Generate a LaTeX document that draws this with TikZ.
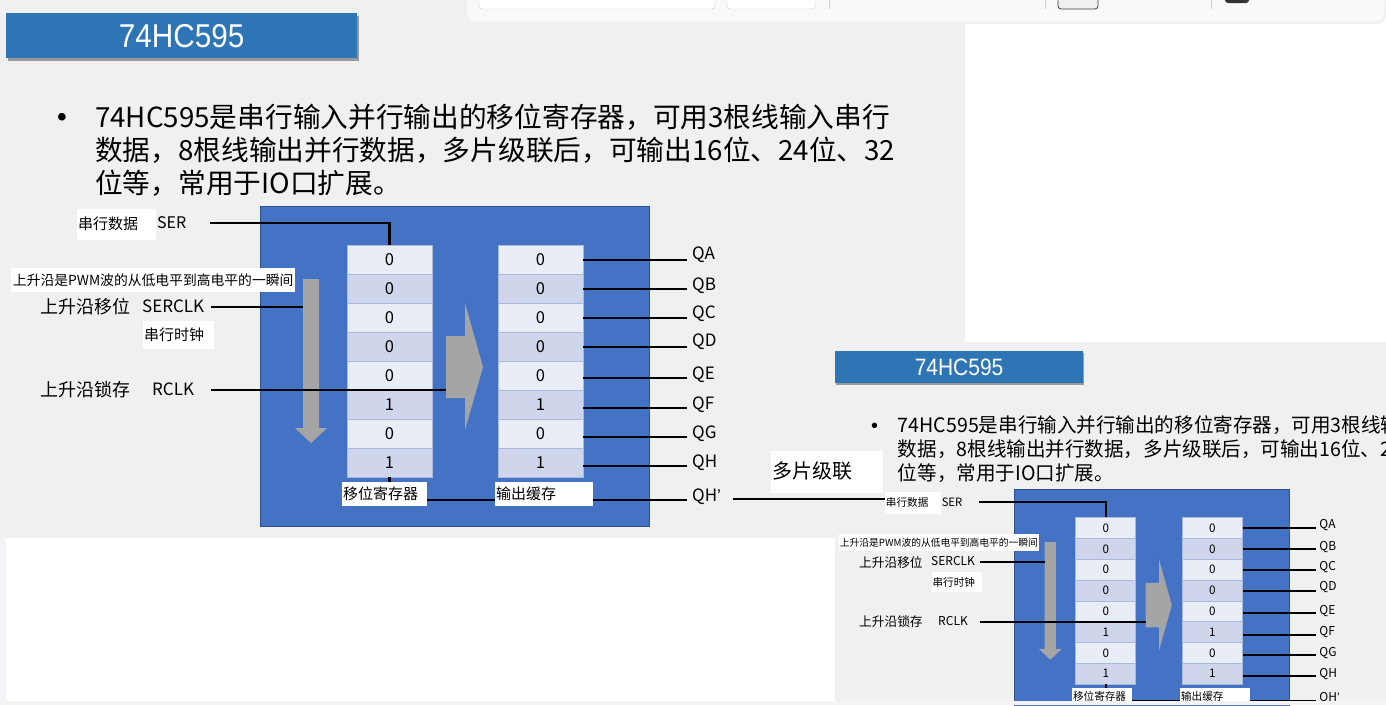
\documentclass[tikz,border=0pt]{standalone}
\usepackage{fontspec}
\setmainfont{Noto Sans CJK SC}
\newfontfamily\titlefont[FakeStretch=0.9]{Liberation Sans}
\newfontfamily\latinfont{Liberation Sans}
\usetikzlibrary{calc}
\definecolor{slidebg}{HTML}{F0F0F0}
\definecolor{edgegray}{HTML}{F4F4F6}
\definecolor{bannerblue}{HTML}{2E75B6}
\definecolor{chipblue}{HTML}{4472C4}
\definecolor{chipedge}{HTML}{2F528F}
\definecolor{cellA}{HTML}{E9EDF6}
\definecolor{cellB}{HTML}{CFD5EA}
\definecolor{cellline}{HTML}{A9B9DE}
\definecolor{arrowgray}{HTML}{A5A5A5}
\definecolor{toolbg}{HTML}{F9F9F9}
\definecolor{boxline}{HTML}{D0D0D0}
\newcommand\fs[1]{\fontsize{#1}{#1}\selectfont}
\def\wirelw{2.8pt}
\def\celllw{0.8pt}
\tikzset{
  banner/.style={fill=bannerblue, inner sep=0, minimum width=351, minimum height=45,
    anchor=north west, text=white, font=\titlefont\fs{33}},
  txt/.style={inner sep=0, text=black},
  wbox/.style={fill=white, inner sep=0, anchor=north west},
  cell/.style={draw=cellline, line width=\celllw, minimum width=85, minimum height=29,
    inner sep=0, font=\fs{16.5}},
  wire/.style={draw=black, line width=\wirelw},
  garrow/.style={fill=arrowgray},
}
\newcommand\slidebody{%
  \fill[black!40] (8,16) rectangle (359,61);
  \node[banner] (title) at (6,13) {74HC595};
  \node[txt, font=\latinfont\fs{28}, anchor=base] (bullet) at (62,126) {•};
  \node[txt, font=\fs{27.7}, anchor=base west] (body1) at (95,127) {74HC595是串行输入并行输出的移位寄存器，可用3根线输入串行};
  \node[txt, font=\fs{27.7}, anchor=base west] (body2) at (95,160) {数据，8根线输出并行数据，多片级联后，可输出16位、24位、32};
  \node[txt, font=\fs{27.7}, anchor=base west] (body3) at (95,193) {位等，常用于IO口扩展。};
  % chip body
  \node[fill=chipblue, draw=chipedge, line width=0.8, minimum width=389, minimum height=320,
    anchor=north west, inner sep=0] (chip) at (260,206) {};
  % register cells
  \foreach \i/\v/\c in {1/0/cellA,2/0/cellB,3/0/cellA,4/0/cellB,5/0/cellA,6/1/cellB,7/0/cellA,8/1/cellB}{
    \node[cell, fill=\c] (L\i) at (389.5,{230.5+29*\i}) {\v};
    \node[cell, fill=\c] (R\i) at (540.5,{230.5+29*\i}) {\v};
  }
  % gray arrows
  \fill[garrow] (303,279) -- (319,279) -- (319,428) -- (327,428) -- (311,443) -- (295,428) -- (303,428) -- cycle;
  \fill[garrow] (446,336) -- (465,336) -- (465,303) -- (483,367) -- (465,430) -- (465,398) -- (446,398) -- cycle;
  % wire end points
  \coordinate (serw) at (210,223);
  \coordinate (sclkw) at (211,307);
  \coordinate (sclkend) at (303,307);
  \coordinate (rclkw) at (211,390);
  \coordinate (rclkend) at (446,390);
  \coordinate (qhpw) at (687,500);
  \draw[wire] (serw) -| (L1.north);
  \draw[wire] (sclkw) -- (sclkend);
  \draw[wire] (rclkw) -- (rclkend);
  \draw[wire] (L8.south) |- (qhpw);
  % outputs
  \foreach \i/\y/\ly/\q in {1/260/255/QA,2/289/286/QB,3/318/314/QC,4/347/342/QD,5/378/375/QE,6/408/405/QF,7/437/434/QG,8/466/463/QH}{
    \coordinate (qw\i) at (687,\y);
    \draw[wire] (R\i.east |- qw\i) -- (qw\i);
    \node[txt, font=\fs{17}, anchor=west] (q\i) at (692,\ly) {\q};
  }
  \node[txt, font=\fs{17}, anchor=west] (qhp) at (692,497) {QH{\latinfont ’}};
  % bottom labels
  \node[wbox, minimum width=85, minimum height=24] (srbox) at (342,482) {};
  \node[txt, font=\fs{15}, anchor=west] (srtxt) at (343,494) {移位寄存器};
  \node[wbox, minimum width=98, minimum height=24] (obbox) at (495,482) {};
  \node[txt, font=\fs{15}, anchor=west] (obtxt) at (496,494) {输出缓存};
  % left labels
  \node[wbox, minimum width=79, minimum height=31] (serbox) at (77,209) {};
  \node[txt, font=\fs{15}, anchor=west] (sertxt) at (78,224) {串行数据};
  \node[txt, font=\fs{16}, anchor=west] (ser) at (157,223) {SER};
  \node[wbox, minimum width=284, minimum height=24, font=\fs{13.8}] (pwmbox) at (11,268) {上升沿是PWM波的从低电平到高电平的一瞬间};
  \node[txt, font=\fs{18}, anchor=west] (shift) at (40,307) {上升沿移位};
  \node[txt, font=\fs{17}, anchor=west] (sclk) at (142,306) {SERCLK};
  \node[wbox, minimum width=71, minimum height=28] (sclkbox) at (143,321) {};
  \node[txt, font=\fs{15}, anchor=west] (sclktxt) at (144,335) {串行时钟};
  \node[txt, font=\fs{18}, anchor=west] (latch) at (40,390) {上升沿锁存};
  \node[txt, font=\fs{17}, anchor=west] (rclk) at (152,389) {RCLK};
}
\begin{document}
\begin{tikzpicture}[x=1pt, y=-1pt]
  \useasboundingbox (0,0) rectangle (1386,705);
  \clip (0,0) rectangle (1386,705);
  \fill[white] (0,0) rectangle (1386,705);
  \fill[slidebg] (0,0) rectangle (965,538);
  \fill[edgegray] (0,538) rectangle (6,705);
  % first slide
  \begin{scope}
    \slidebody
  \end{scope}
  % second slide (scaled copy)
  \fill[slidebg] (835,342) rectangle (1386,705);
  \begin{scope}[shift={(830.764,341.666)}, xscale=0.706, yscale=0.718, transform shape, name prefix=s2-]
    \def\wirelw{2pt}\def\celllw{0.6pt}
    \slidebody
  \end{scope}
  % cascade link
  \coordinate (qhplink) at (733,499);
  \draw[wire] (qhplink) -- (qhplink -| s2-serbox.west);
  \node[wbox, minimum width=112, minimum height=42] (cascbox) at (771,451) {};
  \node[txt, font=\fs{20}, anchor=west] (casc) at (772,471) {多片级联};
  % bottom edge
  \fill[edgegray] (0,701) rectangle (1386,705);
  % toolbar
  \fill[black!6, rounded corners=9] (466,-10) rectangle (1386,24);
  \fill[black!3, rounded corners=9] (467,-10) rectangle (1385,22);
  \fill[toolbg, rounded corners=8] (468,-10) rectangle (1384,20);
  \draw[boxline, fill=white, rounded corners=3] (479,-5) rectangle (715,9);
  \draw[boxline, fill=white, rounded corners=3] (727,-5) rectangle (815,9);
  \draw[boxline] (829,0) -- (829,9);
  \draw[boxline] (1045,0) -- (1045,9);
  \draw[black!75, fill=slidebg, rounded corners=3, line width=0.8] (1058,-5) rectangle (1098,9);
  \draw[boxline] (1211,0) -- (1211,9);
  \fill[black!80, rounded corners=3] (1225,-5) rectangle (1249,3);
\end{tikzpicture}
\end{document}
